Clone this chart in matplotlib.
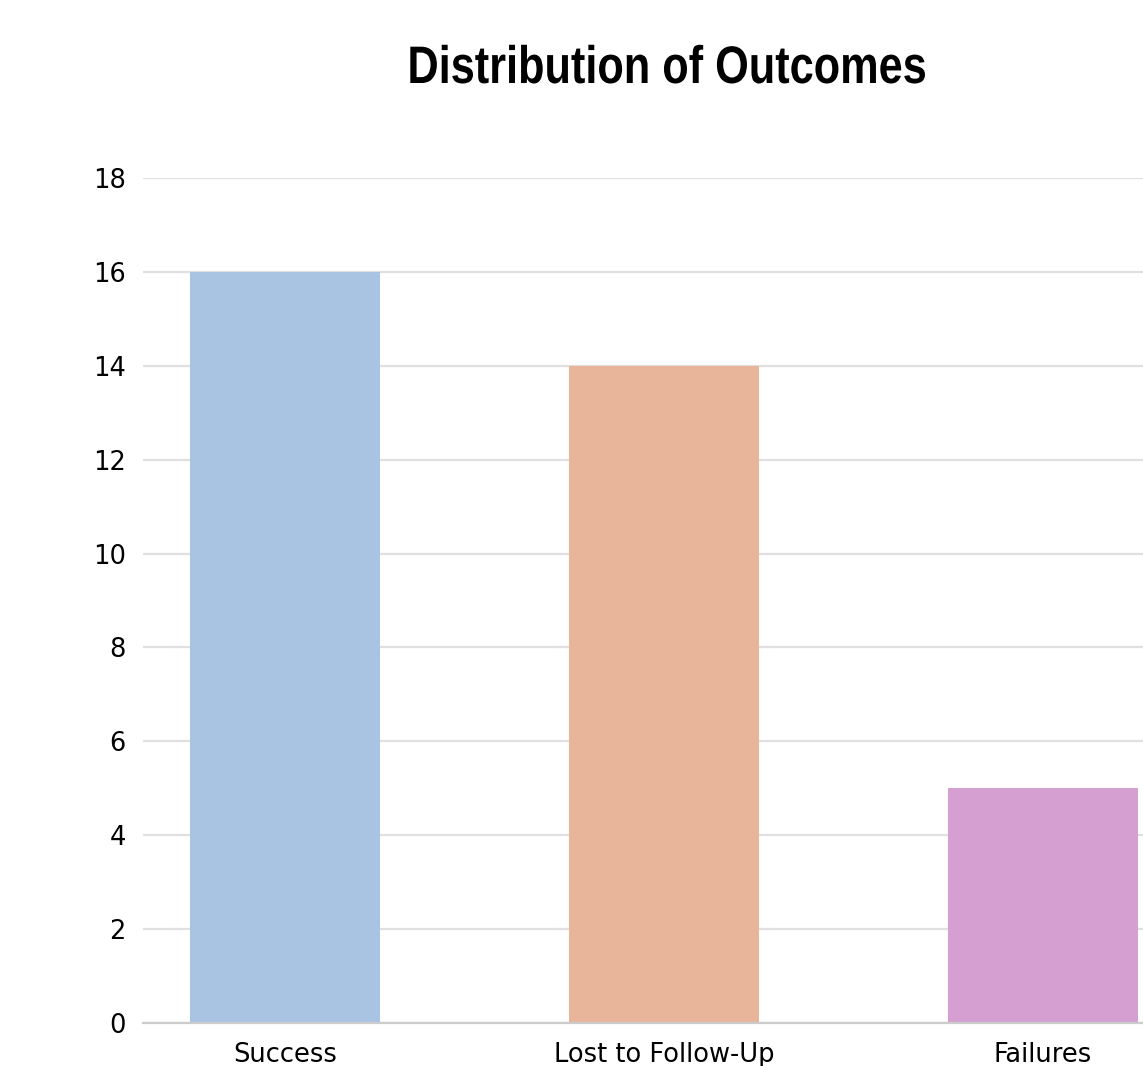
import matplotlib.pyplot as plt
import matplotlib.patheffects as pe
from matplotlib.transforms import Affine2D
import numpy as np

categories = ['Success', 'Lost to Follow-Up', 'Failures']
counts = [16, 14, 5]
colors = ['#a9c4e2', '#e8b49a', '#d59fd2']


class Narrow(pe.AbstractPathEffect):
    # squeeze glyphs horizontally around a centre x (display px), narrow-font look
    def __init__(self, cx, sx):
        super().__init__()
        self.cx = cx
        self.sx = sx

    def draw_path(self, renderer, gc, tpath, affine, rgbFace=None):
        squeeze = Affine2D().translate(-self.cx, 0).scale(self.sx, 1).translate(self.cx, 0)
        renderer.draw_path(gc, tpath, affine + squeeze, rgbFace)


fig = plt.figure(figsize=(11.43, 10.66), dpi=100)
ax = fig.add_axes([0.1251, 0.0403, 0.9116, 0.7927])

x = np.arange(len(categories))
ax.bar(x, counts, width=0.5, color=colors, zorder=2)

ax.set_xlim(-0.375, 2.375)
ax.set_ylim(0, 18)
ax.set_yticks(range(0, 19, 2))
ax.set_xticks(x)
ax.set_xticklabels(categories, fontsize=18.5)
ax.tick_params(axis='y', labelsize=18.5, length=0, pad=12.5)
ax.tick_params(axis='x', length=0, pad=13.5)

ax.grid(axis='y', color='#e0e0e0', linewidth=1.6, zorder=0)
for side in ['top', 'right', 'left']:
    ax.spines[side].set_visible(False)
ax.spines['bottom'].set_color('#cccccc')
ax.spines['bottom'].set_linewidth(1.6)

title_x = 666.5 / 1143
fig.text(title_x, 1 - 83 / 1066, 'Distribution of Outcomes', ha='center', va='baseline',
         fontsize=38, fontweight='bold', family=['Liberation Sans', 'DejaVu Sans'],
         path_effects=[Narrow(title_x * 1143, 0.82)])

fig.savefig('out.png', dpi=100)
